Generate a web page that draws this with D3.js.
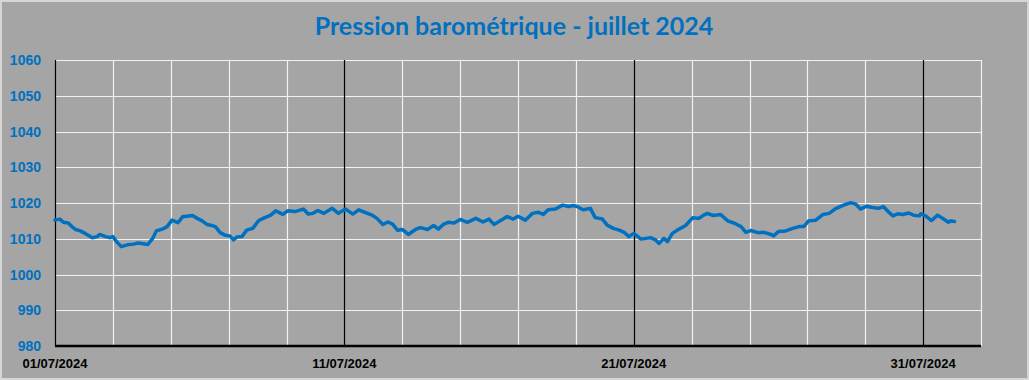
<!DOCTYPE html>
<html>
<head>
<meta charset="utf-8">
<script src="https://cdn.jsdelivr.net/npm/d3@7"></script>
<style>
  html, body { margin: 0; padding: 0; background: #a5a5a5; }
  svg { display: block; }
</style>
</head>
<body>
<div id="chart"></div>
<script>
// DATA
const title = "Pression barométrique - juillet 2024";
const startDate = "2024-07-01T00:00:00Z";
const endDate = "2024-08-02T00:00:00Z";
const yTicks = [980, 990, 1000, 1010, 1020, 1030, 1040, 1050, 1060];
const labelDates = ["2024-07-01", "2024-07-11", "2024-07-21", "2024-07-31"];
const tickLabels = ["01/07/2024", "11/07/2024", "21/07/2024", "31/07/2024"];
// hours since 01/07 00:00
const hours = [
  0, 4, 7, 11, 14, 17, 21, 25, 31, 35, 37, 42, 46, 48, 51, 55, 60, 65, 69, 73,
  77, 81, 84, 89, 93, 97, 102, 106, 108, 114, 118, 122, 126, 130, 133, 137, 141, 145, 148, 151,
  155, 159, 164, 169, 174, 179, 183, 189, 193, 199, 206, 210, 214, 218, 223, 230, 235, 241, 247, 252,
  257, 263, 267, 272, 276, 280, 284, 288, 293, 299, 303, 309, 314, 318, 322, 326, 331, 336, 342, 349,
  355, 360, 364, 370, 375, 380, 384, 390, 396, 401, 405, 409, 415, 421, 426, 430, 433, 438, 444, 448,
  454, 458, 463, 468, 472, 476, 480, 486, 490, 494, 498, 501, 505, 508, 512, 517, 523, 529, 534, 538,
  541, 546, 552, 558, 563, 569, 573, 577, 583, 588, 594, 596, 600, 606, 612, 617, 621, 625, 631, 637,
  642, 646, 648, 654, 660, 664, 668, 673, 677, 683, 687, 691, 695, 699, 703, 708, 712, 717, 718, 722,
  727, 732, 737, 741, 743, 746
];
const pressure = [
  1015.2, 1015.5, 1014.6, 1014.4, 1013.4, 1012.6, 1012.2, 1011.5, 1010.3, 1010.6, 1011.2, 1010.6, 1010.3, 1010.6, 1009.2, 1007.8, 1008.3, 1008.5, 1008.8, 1008.6,
  1008.4, 1010.1, 1012.2, 1012.7, 1013.4, 1015.2, 1014.5, 1016.2, 1016.2, 1016.5, 1015.7, 1015.0, 1014.0, 1013.7, 1013.4, 1011.7, 1011.0, 1010.8, 1009.7, 1010.5,
  1010.6, 1012.4, 1012.9, 1015.1, 1015.9, 1016.6, 1017.8, 1016.8, 1017.8, 1017.6, 1018.3, 1016.9, 1017.1, 1017.9, 1017.1, 1018.5, 1017.1, 1018.3, 1016.9, 1018.1,
  1017.4, 1016.6, 1015.7, 1014.0, 1014.7, 1014.1, 1012.4, 1012.6, 1011.2, 1012.6, 1013.1, 1012.6, 1013.7, 1012.7, 1014.0, 1014.6, 1014.4, 1015.4, 1014.6, 1015.7,
  1014.7, 1015.5, 1014.0, 1015.2, 1016.2, 1015.5, 1016.3, 1015.2, 1017.1, 1017.4, 1016.8, 1018.1, 1018.3, 1019.4, 1019.0, 1019.3, 1019.0, 1018.1, 1018.5, 1015.9,
  1015.5, 1013.8, 1012.9, 1012.4, 1011.8, 1010.6, 1011.5, 1009.9, 1010.1, 1010.3, 1009.7, 1008.7, 1010.1, 1009.2, 1011.5, 1012.6, 1013.7, 1015.9, 1015.7, 1016.6,
  1017.1, 1016.5, 1016.8, 1015.0, 1014.4, 1013.4, 1011.8, 1012.3, 1011.7, 1011.8, 1011.2, 1010.8, 1012.0, 1012.2, 1012.9, 1013.4, 1013.4, 1015.0, 1015.2, 1016.8,
  1017.1, 1018.1, 1018.5, 1019.4, 1020.1, 1019.7, 1018.3, 1019.1, 1018.8, 1018.5, 1019.0, 1017.6, 1016.4, 1017.0, 1016.8, 1017.2, 1016.6, 1016.4, 1017.0, 1016.4,
  1015.1, 1016.6, 1015.5, 1014.6, 1015.0, 1014.8
];

// CANVAS SETUP
const width = 1029,
  height = 380,
  margin = { top: 60, right: 48, bottom: 34, left: 55 };

const blue = "#0070c0";

const svg = d3
  .select("#chart")
  .append("svg")
  .attr("width", width)
  .attr("height", height);

svg
  .append("rect")
  .attr("x", 1)
  .attr("y", 1)
  .attr("width", width - 2)
  .attr("height", height - 2)
  .attr("fill", "#a5a5a5")
  .attr("stroke", "#d6d6d6")
  .attr("stroke-width", 2);

const t0 = new Date(startDate),
  t1 = new Date(endDate);
const data = hours.map((h, i) => ({
  date: new Date(t0.getTime() + h * 3600 * 1000),
  value: pressure[i],
}));

const xScale = d3.scaleUtc().domain([t0, t1]).range([margin.left, width - margin.right]);

const yScale = d3
  .scaleLinear()
  .domain([980, 1060])
  .range([height - margin.bottom, margin.top]);

const y0 = yScale.range()[0],
  y1 = yScale.range()[1];

// grid
const grid = svg.append("g").attr("class", "grid");

grid
  .selectAll("line.h")
  .data(yTicks.slice(1))
  .join("line")
  .attr("class", "h")
  .attr("x1", margin.left)
  .attr("x2", width - margin.right)
  .attr("y1", (d) => Math.round(yScale(d)) + 0.5)
  .attr("y2", (d) => Math.round(yScale(d)) + 0.5)
  .attr("stroke", "#f2f2f2")
  .attr("stroke-width", 1.2);

// one line every 2 days, black every 10 days
const dayTicks = d3.utcDay.range(t0, d3.utcHour.offset(t1, 1), 2);
const majors = labelDates.map((d) => +new Date(d + "T00:00:00Z"));

grid
  .selectAll("line.v")
  .data(dayTicks.filter((d) => !majors.includes(+d)))
  .join("line")
  .attr("class", "v")
  .attr("x1", (d) => Math.round(xScale(d)) + 0.5)
  .attr("x2", (d) => Math.round(xScale(d)) + 0.5)
  .attr("y1", y1)
  .attr("y2", y0)
  .attr("stroke", "#f2f2f2")
  .attr("stroke-width", 1.2);

grid
  .selectAll("line.major")
  .data(majors)
  .join("line")
  .attr("class", "major")
  .attr("x1", (d) => Math.round(xScale(d)) + 0.5)
  .attr("x2", (d) => Math.round(xScale(d)) + 0.5)
  .attr("y1", y1)
  .attr("y2", y0)
  .attr("stroke", "#000")
  .attr("stroke-width", 1.2);

// axes
svg
  .append("line")
  .attr("x1", margin.left)
  .attr("x2", width - margin.right)
  .attr("y1", y0)
  .attr("y2", y0)
  .attr("stroke", "#000")
  .attr("stroke-width", 2.5);

svg
  .selectAll("text.ylab")
  .data(yTicks)
  .join("text")
  .attr("class", "ylab")
  .attr("x", 41)
  .attr("y", (d) => yScale(d) + 5)
  .attr("text-anchor", "end")
  .attr("font-family", "Liberation Sans, Arial, sans-serif")
  .attr("font-weight", "bold")
  .attr("font-size", 14)
  .attr("fill", blue)
  .text((d) => d);

svg
  .selectAll("text.xlab")
  .data(majors)
  .join("text")
  .attr("class", "xlab")
  .attr("x", (d) => xScale(d))
  .attr("y", 368)
  .attr("text-anchor", "middle")
  .attr("font-family", "Liberation Sans, Arial, sans-serif")
  .attr("font-weight", "bold")
  .attr("font-size", 13)
  .attr("fill", "#000")
  .text((d, i) => tickLabels[i]);

// line
const line = d3
  .line()
  .x((d) => xScale(d.date))
  .y((d) => yScale(d.value));

svg
  .append("path")
  .datum(data)
  .attr("d", line)
  .attr("fill", "none")
  .attr("stroke", blue)
  .attr("stroke-width", 3.5)
  .attr("stroke-linejoin", "round")
  .attr("stroke-linecap", "round");

// title
svg
  .append("text")
  .attr("x", 514)
  .attr("y", 35)
  .attr("text-anchor", "middle")
  .attr("font-family", "Lato, sans-serif")
  .attr("font-weight", "bold")
  .attr("font-size", 25)
  .attr("fill", blue)
  .text(title);
</script>
</body>
</html>
